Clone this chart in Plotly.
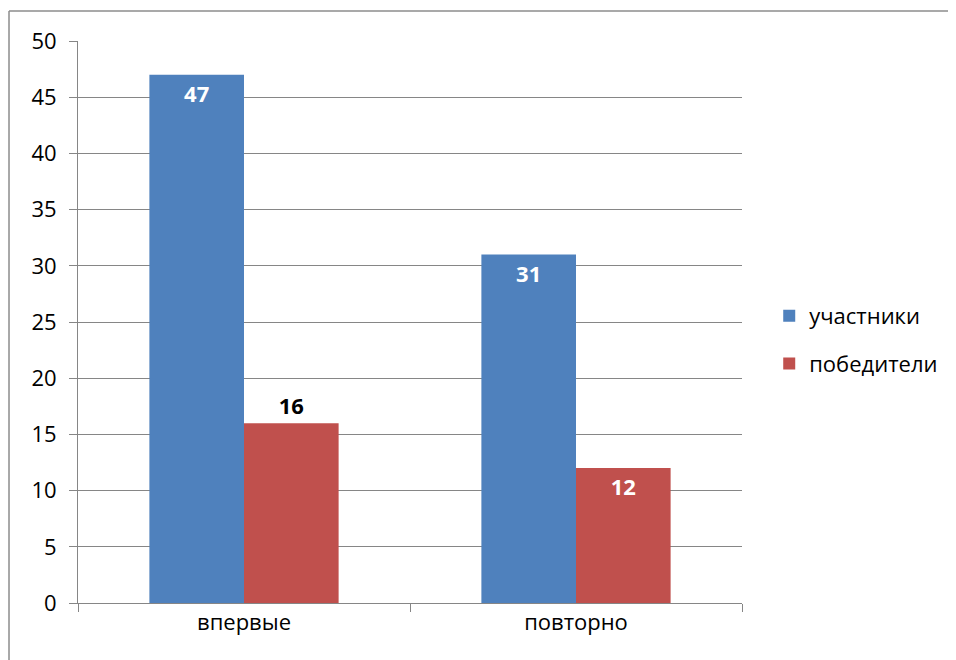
import plotly.graph_objects as go

categories = ["впервые", "повторно"]
participants = [47, 31]
winners = [16, 12]
series_names = ["участники", "победители"]
y_ticks = [0, 5, 10, 15, 20, 25, 30, 35, 40, 45, 50]

BLUE = "#4F81BD"
RED = "#C0504D"
FONT = "Open Sans"

fig = go.Figure()
fig.add_trace(go.Bar(
    x=categories, y=participants, name=series_names[0],
    marker=dict(color=BLUE, line=dict(width=0)),
    text=[str(v) for v in participants],
    textposition="inside", insidetextanchor="end",
    insidetextfont=dict(family=FONT, size=22, color="white", weight="bold"),
    legendgroup="a",
))
fig.add_trace(go.Bar(
    x=categories, y=winners, name=series_names[1],
    marker=dict(color=RED, line=dict(width=0)),
    text=[str(v) for v in winners],
    textposition=["outside", "inside"], insidetextanchor="end",
    insidetextfont=dict(family=FONT, size=22, color="white", weight="bold"),
    outsidetextfont=dict(family=FONT, size=22, color="black", weight="bold"),
    legendgroup="b",
))

fig.update_layout(
    width=948, height=652,
    margin=dict(l=70, r=214, t=33, b=57),
    paper_bgcolor="white", plot_bgcolor="white",
    barmode="group", bargap=0.43, bargroupgap=0,
    font=dict(family=FONT, size=22, color="black"),
    showlegend=True,
    legend=dict(x=1.041, y=0.468, xanchor="left", yanchor="middle",
                font=dict(family=FONT, size=22, color="black"),
                tracegroupgap=16, itemwidth=30, bgcolor="rgba(0,0,0,0)"),
    xaxis=dict(
        showline=True, linecolor="#868686", linewidth=1,
        ticks="outside", tickson="boundaries", ticklen=8, tickcolor="#868686",
        tickfont=dict(family=FONT, size=22, color="black"),
        showgrid=False, fixedrange=True,
    ),
    yaxis=dict(
        range=[0, 50], tickvals=y_ticks,
        showline=True, linecolor="#868686", linewidth=1,
        ticks="outside", ticklen=8, tickcolor="#868686",
        showgrid=True, gridcolor="#868686", gridwidth=1,
        tickfont=dict(family=FONT, size=22, color="black"),
        zeroline=False, ticklabelstandoff=8,
    ),
    shapes=[
        dict(type="line", xref="paper", yref="paper", x0=-0.1039, x1=-0.1039, y0=1.0534, y1=-0.1014,
             line=dict(color="#8c8c8c", width=1.5)),
        dict(type="line", xref="paper", yref="paper", x0=-0.1039, x1=1.3223, y0=1.0534, y1=1.0534,
             line=dict(color="#8c8c8c", width=1.5)),
    ],
)

fig.write_html("out.html")
